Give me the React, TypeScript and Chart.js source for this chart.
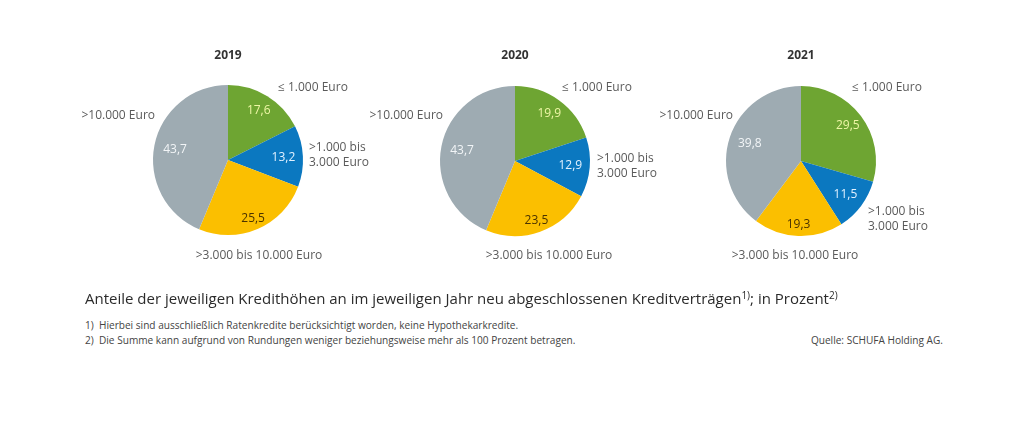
import React, { useEffect, useRef } from "react";
import { Chart, registerables } from "chart.js";

Chart.register(...registerables);

const years = ["2019", "2020", "2021"];
const categories = ["≤ 1.000 Euro", ">1.000 bis\n3.000 Euro", ">3.000 bis 10.000 Euro", ">10.000 Euro"];
const values2019 = [17.6, 13.2, 25.5, 43.7];
const values2020 = [19.9, 12.9, 23.5, 43.7];
const values2021 = [29.5, 11.5, 19.3, 39.8];
const seriesByYear = [values2019, values2020, values2021];

const sliceColors = ["#6ea532", "#0b78c0", "#fbbf00", "#9eabb2"];
const valueTextColors = ["#eef6a6", "#e2f1ff", "#4a3300", "#f2f5f7"];
const valueRadiusFactor = [0.78, 0.74, 0.85, 0.72];

const FONT = "'Open Sans', 'Noto Sans', sans-serif";

// layout: pie centers and label offsets (relative to pie center)
const pieCenters = [
  [228, 160],
  [515, 161],
  [801, 161],
];
const PIE_R = 75;
const CANVAS_W = 300;
const CANVAS_H = 260;
const CANVAS_TOP = 40;
const labelOffsets = [
  [[50, -72, "left"], [81, -4.5, "left"], [31, 96, "center"], [-73, -44, "right"]],
  [[47, -73, "left"], [82, 5.5, "left"], [34, 95, "center"], [-72, -45, "right"]],
  [[51, -73, "left"], [67, 58.5, "left"], [-6, 95, "center"], [-68, -45, "right"]],
];

function fmt(v: number) {
  return v.toFixed(1).replace(".", ",");
}

function PieChart({ idx }: { idx: number }) {
  const ref = useRef<HTMLCanvasElement | null>(null);
  useEffect(() => {
    if (!ref.current) return;
    const [, cy] = pieCenters[idx];
    const localCy = cy - CANVAS_TOP;
    const labelPlugin = {
      id: "labels" + idx,
      afterDatasetsDraw(chart: any) {
        const ctx = chart.ctx;
        const meta = chart.getDatasetMeta(0);
        ctx.save();
        ctx.font = `bold 12px ${FONT}`;
        ctx.fillStyle = "#333";
        ctx.textAlign = "center";
        ctx.textBaseline = "middle";
        ctx.fillText(years[idx], CANVAS_W / 2, 56 - CANVAS_TOP);
        meta.data.forEach((arc: any, i: number) => {
          const p = arc.getProps(["x", "y", "startAngle", "endAngle", "outerRadius"], true);
          const mid = (p.startAngle + p.endAngle) / 2;
          const rr = p.outerRadius * valueRadiusFactor[i];
          ctx.font = `12px ${FONT}`;
          ctx.fillStyle = valueTextColors[i];
          ctx.textAlign = "center";
          ctx.textBaseline = "middle";
          ctx.fillText(fmt(seriesByYear[idx][i]), p.x + Math.cos(mid) * rr, p.y + Math.sin(mid) * rr);
          const [dx, dy, align] = labelOffsets[idx][i] as [number, number, CanvasTextAlign];
          const lines = categories[i].split("\n");
          ctx.fillStyle = "#5a5a5a";
          ctx.textAlign = align;
          const lh = 15;
          lines.forEach((ln, k) => {
            const yy = p.y + dy + (k - (lines.length - 1) / 2) * lh;
            ctx.fillText(ln, p.x + dx, yy);
          });
        });
        ctx.restore();
      },
    };
    const chart = new Chart(ref.current, {
      type: "pie",
      data: {
        labels: categories,
        datasets: [
          {
            data: seriesByYear[idx],
            backgroundColor: sliceColors,
            borderWidth: 0,
          },
        ],
      },
      options: {
        responsive: false,
        animation: false,
        devicePixelRatio: 1,
        layout: {
          padding: {
            left: CANVAS_W / 2 - PIE_R,
            right: CANVAS_W / 2 - PIE_R,
            top: localCy - PIE_R,
            bottom: CANVAS_H - localCy - PIE_R,
          },
        },
        plugins: {
          legend: { display: false },
          tooltip: { enabled: false },
          title: { display: false },
        },
      },
      plugins: [labelPlugin],
    });
    return () => chart.destroy();
  }, [idx]);
  const [cx] = pieCenters[idx];
  return (
    <canvas
      ref={ref}
      width={CANVAS_W}
      height={CANVAS_H}
      style={{ position: "absolute", left: cx - CANVAS_W / 2, top: CANVAS_TOP, width: CANVAS_W, height: CANVAS_H }}
    />
  );
}

export default function App() {
  const supStyle: React.CSSProperties = { fontSize: 10, verticalAlign: "top", position: "relative", top: -3 };
  return (
    <div
      style={{
        position: "absolute",
        left: 0,
        top: 0,
        width: 1030,
        height: 430,
        background: "#fff",
        fontFamily: FONT,
        color: "#333",
      }}
    >
      {years.map((_, i) => (
        <PieChart key={i} idx={i} />
      ))}
      <div style={{ position: "absolute", left: 85, top: 288, fontSize: 15, lineHeight: "20px", whiteSpace: "nowrap", color: "#2b2b2b" }}>
        Anteile der jeweiligen Kredithöhen an im jeweiligen Jahr neu abgeschlossenen Kreditverträgen
        <span style={supStyle}>1)</span>; in Prozent<span style={supStyle}>2)</span>
      </div>
      <div style={{ position: "absolute", left: 85, top: 318, fontSize: 10.1, lineHeight: "15px", whiteSpace: "nowrap", color: "#444" }}>
        <div>1)&nbsp; Hierbei sind ausschließlich Ratenkredite berücksichtigt worden, keine Hypothekarkredite.</div>
        <div>2)&nbsp; Die Summe kann aufgrund von Rundungen weniger beziehungsweise mehr als 100 Prozent betragen.</div>
      </div>
      <div style={{ position: "absolute", right: 87, top: 333, fontSize: 10.1, lineHeight: "15px", whiteSpace: "nowrap", color: "#444" }}>
        Quelle: SCHUFA Holding AG.
      </div>
    </div>
  );
}
